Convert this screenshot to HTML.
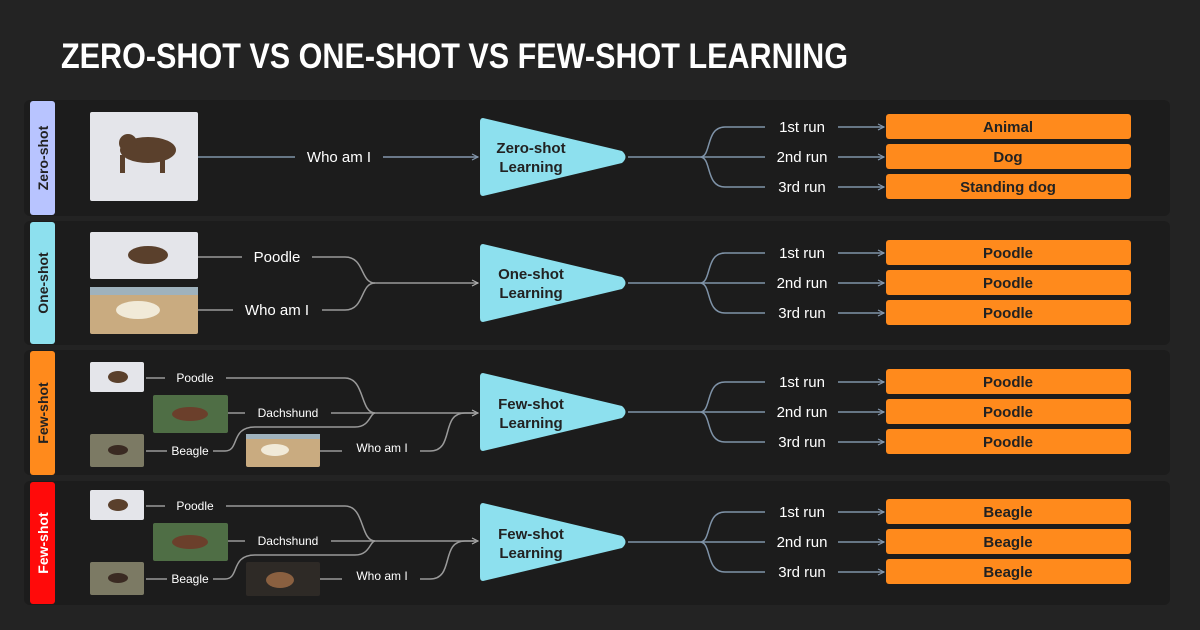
<!DOCTYPE html>
<html><head><meta charset="utf-8"><style>
html,body{margin:0;padding:0;background:#232323;}
svg{display:block;}
text{font-family:"Liberation Sans",sans-serif;}
</style></head><body>
<svg width="1200" height="630" viewBox="0 0 1200 630" xmlns="http://www.w3.org/2000/svg">
<defs>
<marker id="ab" markerWidth="8" markerHeight="8" refX="7" refY="4" orient="auto" markerUnits="userSpaceOnUse"><path d="M1,1 L7,4 L1,7" fill="none" stroke="#8497ad" stroke-width="1.2"/></marker>
<marker id="ag" markerWidth="8" markerHeight="8" refX="7" refY="4" orient="auto" markerUnits="userSpaceOnUse"><path d="M1,1 L7,4 L1,7" fill="none" stroke="#b0b0b0" stroke-width="1.2"/></marker>
</defs>
<rect width="1200" height="630" fill="#232323"/>
<text x="61" y="68" fill="#fff" font-size="35" font-weight="bold" textLength="787" lengthAdjust="spacingAndGlyphs">ZERO-SHOT VS ONE-SHOT VS FEW-SHOT LEARNING</text>

<rect x="24" y="100" width="1146" height="116" rx="6" fill="#1c1c1c"/>
<rect x="24" y="221" width="1146" height="124" rx="6" fill="#1c1c1c"/>
<rect x="24" y="350" width="1146" height="125" rx="6" fill="#1c1c1c"/>
<rect x="24" y="481" width="1146" height="124" rx="6" fill="#1c1c1c"/>

<rect x="30" y="101" width="25" height="114" rx="3" fill="#b8c4ff"/>
<text transform="translate(48,158) rotate(-90)" text-anchor="middle" font-size="14" font-weight="bold" fill="#222">Zero-shot</text>
<rect x="30" y="222" width="25" height="122" rx="3" fill="#8de0ee"/>
<text transform="translate(48,283) rotate(-90)" text-anchor="middle" font-size="14" font-weight="bold" fill="#222">One-shot</text>
<rect x="30" y="351" width="25" height="124" rx="3" fill="#ff8a1c"/>
<text transform="translate(48,413) rotate(-90)" text-anchor="middle" font-size="14" font-weight="bold" fill="#222">Few-shot</text>
<rect x="30" y="482" width="25" height="122" rx="3" fill="#ff0a0a"/>
<text transform="translate(48,543) rotate(-90)" text-anchor="middle" font-size="14" font-weight="bold" fill="#fff">Few-shot</text>

<g>
<rect x="90" y="112" width="108" height="89" rx="2" fill="#e4e5ea"/>
<ellipse cx="148" cy="150" rx="28" ry="13" fill="#5a402c"/><circle cx="128" cy="143" r="9" fill="#5a402c"/>
<rect x="120" y="155" width="5" height="18" fill="#5a402c"/><rect x="160" y="155" width="5" height="18" fill="#5a402c"/>
<rect x="90" y="232" width="108" height="47" rx="2" fill="#e4e5ea"/>
<ellipse cx="148" cy="255" rx="20" ry="9" fill="#5a402c"/>
<rect x="90" y="287" width="108" height="47" rx="2" fill="#c9ab80"/><rect x="90" y="287" width="108" height="8" fill="#9fb2bd"/>
<ellipse cx="138" cy="310" rx="22" ry="9" fill="#f1ead8"/>
</g>
<g id="few">
<rect x="90" y="362" width="54" height="30" rx="2" fill="#e4e5ea"/><ellipse cx="118" cy="377" rx="10" ry="6" fill="#5a402c"/>
<rect x="153" y="395" width="75" height="38" rx="2" fill="#4f6e45"/><ellipse cx="190" cy="414" rx="18" ry="7" fill="#6b3f2b"/>
<rect x="90" y="434" width="54" height="33" rx="2" fill="#7c7a64"/><ellipse cx="118" cy="450" rx="10" ry="5" fill="#3a2a22"/>
</g>
<rect x="246" y="434" width="74" height="33" rx="2" fill="#c9ab80"/><rect x="246" y="434" width="74" height="5" fill="#9fb2bd"/><ellipse cx="275" cy="450" rx="14" ry="6" fill="#f1ead8"/>
<use href="#few" transform="translate(0,128)"/>
<rect x="246" y="562" width="74" height="34" rx="2" fill="#2e2a26"/><ellipse cx="280" cy="580" rx="14" ry="8" fill="#8a6040"/>

<g fill="none" stroke-width="1.5">
<path d="M198,157 H295" stroke="#7f93a8"/>
<path d="M383,157 H478" stroke="#8497ad" marker-end="url(#ab)"/>
<g stroke="#9a9a9a">
<path d="M198,257 H242 M312,257 H345 C365,257 360,283 375,283"/>
<path d="M198,310 H233 M322,310 H345 C365,310 360,283 375,283"/>
<path d="M375,283 H478" marker-end="url(#ag)"/>
</g>
<g id="fewlines" stroke="#9a9a9a">
<path d="M146,378 H165 M226,378 H345 C365,378 360,413 375,413"/>
<path d="M228,413 H245"/>
<path d="M331,413 H478" marker-end="url(#ag)"/>
<path d="M146,451 H167 M213,451 H225 C240,451 230,427 255,427 H355 C370,427 370,413 375,413"/>
<path d="M320,451 H342 M420,451 H430 C455,451 440,413 465,413 H478"/>
</g>
<use href="#fewlines" transform="translate(0,128)"/>
</g>

<g fill="#fff" font-size="15" text-anchor="middle">
<text x="339" y="162">Who am I</text>
<text x="277" y="262">Poodle</text>
<text x="277" y="315">Who am I</text>
<g font-size="12">
<text x="195" y="382">Poodle</text><text x="288" y="417">Dachshund</text><text x="190" y="455">Beagle</text><text x="382" y="452">Who am I</text>
<text x="195" y="510">Poodle</text><text x="288" y="545">Dachshund</text><text x="190" y="583">Beagle</text><text x="382" y="580">Who am I</text>
</g>
</g>

<g id="out0">
<path d="M483,118 L622,151 Q629,157 622,163 L483,196 Q480,196 480,192 V122 Q480,118 483,118Z" fill="#8de0ee"/>
<g fill="none" stroke="#7f93a8" stroke-width="1.5">
<path d="M628,157 H700 M700,157 C712,157 705,127 725,127 H765 M700,157 H765 M700,157 C712,157 705,187 725,187 H765"/>
<path d="M838,127 H884" marker-end="url(#ab)"/>
<path d="M838,157 H884" marker-end="url(#ab)"/>
<path d="M838,187 H884" marker-end="url(#ab)"/>
</g>
<g fill="#fff" font-size="15" text-anchor="middle">
<text x="802" y="132">1st run</text><text x="802" y="162">2nd run</text><text x="802" y="192">3rd run</text>
</g>
<rect x="886" y="114" width="245" height="25" rx="3" fill="#ff8a1c"/>
<rect x="886" y="144" width="245" height="25" rx="3" fill="#ff8a1c"/>
<rect x="886" y="174" width="245" height="25" rx="3" fill="#ff8a1c"/>
</g>
<use href="#out0" transform="translate(0,126)"/>
<use href="#out0" transform="translate(0,255)"/>
<use href="#out0" transform="translate(0,385)"/>

<g fill="#222" font-size="15" font-weight="bold" text-anchor="middle">
<text x="531" y="153">Zero-shot</text><text x="531" y="172">Learning</text>
<text x="531" y="279">One-shot</text><text x="531" y="298">Learning</text>
<text x="531" y="409">Few-shot</text><text x="531" y="428">Learning</text>
<text x="531" y="539">Few-shot</text><text x="531" y="558">Learning</text>
</g>
<g fill="#222" font-size="15" font-weight="bold" text-anchor="middle">
<text x="1008" y="132">Animal</text><text x="1008" y="162">Dog</text><text x="1008" y="192">Standing dog</text>
<text x="1008" y="258">Poodle</text><text x="1008" y="288">Poodle</text><text x="1008" y="318">Poodle</text>
<text x="1008" y="387">Poodle</text><text x="1008" y="417">Poodle</text><text x="1008" y="447">Poodle</text>
<text x="1008" y="517">Beagle</text><text x="1008" y="547">Beagle</text><text x="1008" y="577">Beagle</text>
</g>
</svg>
</body></html>
